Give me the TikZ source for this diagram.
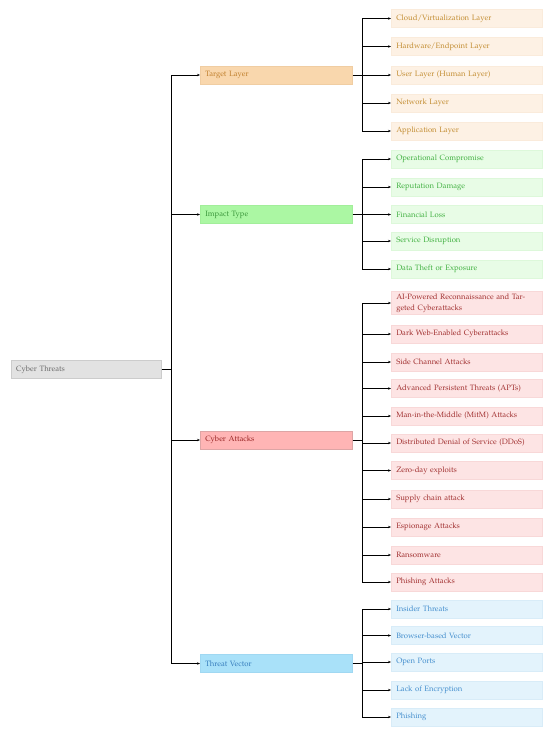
\documentclass[tikz,border=0pt]{standalone}
\usepackage[T1]{fontenc}
\usepackage{mathpazo}
\usetikzlibrary{arrows.meta}
\definecolor{rootfill}{HTML}{E2E2E2}
\definecolor{rootdraw}{HTML}{CCCCCC}
\definecolor{roottext}{HTML}{6A6A6A}
\definecolor{tlfill}{HTML}{F9D7AD}
\definecolor{tldraw}{HTML}{F0CDA2}
\definecolor{tltext}{HTML}{C07F2C}
\definecolor{tlcfill}{HTML}{FDF1E4}
\definecolor{tlcdraw}{HTML}{FAEBDB}
\definecolor{tlctext}{HTML}{C28C30}
\definecolor{imfill}{HTML}{ABF7A3}
\definecolor{imdraw}{HTML}{A2EE9A}
\definecolor{imtext}{HTML}{3A963A}
\definecolor{imcfill}{HTML}{E8FCE6}
\definecolor{imcdraw}{HTML}{DDF8DA}
\definecolor{imctext}{HTML}{40B040}
\definecolor{cafill}{HTML}{FFB5B5}
\definecolor{cadraw}{HTML}{DDA5A5}
\definecolor{catext}{HTML}{982222}
\definecolor{cacfill}{HTML}{FDE4E4}
\definecolor{cacdraw}{HTML}{F8D8D8}
\definecolor{cactext}{HTML}{A02E2E}
\definecolor{tvfill}{HTML}{A9E1F9}
\definecolor{tvdraw}{HTML}{A0D8F2}
\definecolor{tvtext}{HTML}{357CBC}
\definecolor{tvcfill}{HTML}{E3F3FC}
\definecolor{tvcdraw}{HTML}{D8ECF8}
\definecolor{tvctext}{HTML}{428DCD}
\tikzset{
  base/.style={anchor=west, inner xsep=5pt, inner ysep=2pt, font=\fontsize{7.7}{11}\selectfont, align=left, minimum height=18pt, line width=0.5pt},
  rootbox/.style={base, fill=rootfill, draw=rootdraw, text=roottext, text width=140pt},
  lone/.style={base, text width=142pt},
  ltwo/.style={base, text width=141pt},
  conn/.style={line width=0.8pt, black},
  arr/.style={conn, -{Stealth[length=3pt,width=2.4pt]}},
}
\newcommand{\kids}[4]{%
  \coordinate (#1t) at (362,0);
  \draw[conn] (#1.east) -- (#1t|-#1.east);
  \foreach \y/\txt [count=\i] in {#4} {
    \node[ltwo, fill=#2, draw=#3, text=#1ctext] (#1c\i) at (391,\y) {\txt};
    \draw[arr] (#1t|-#1c\i.west) -- (#1c\i.west);
  }
}
\begin{document}
\begin{tikzpicture}[x=1pt,y=-1pt]
\useasboundingbox (0,0) rectangle (550,736);
\fill[white] (0,0) rectangle (550,736);
% root
\node[rootbox] (root) at (11,369.5) {Cyber Threats};
% level 1
\node[lone, fill=tlfill, draw=tldraw, text=tltext] (tl) at (200,75) {Target Layer};
\node[lone, fill=imfill, draw=imdraw, text=imtext] (im) at (200,214.5) {Impact Type};
\node[lone, fill=cafill, draw=cadraw, text=catext] (ca) at (200,440) {Cyber Attacks};
\node[lone, fill=tvfill, draw=tvdraw, text=tvtext] (tv) at (200,663.5) {Threat Vector};
% trunk
\coordinate (t) at (171,369.5);
\draw[conn] (root.east) -- (t);
\draw[conn] (t|-tl.west) -- (t|-tv.west);
\foreach \n in {tl,im,ca,tv} \draw[arr] (t|-\n.west) -- (\n.west);
% children
\kids{tl}{tlcfill}{tlcdraw}{18.5/{Cloud/Virtualization Layer},46.5/{Hardware/Endpoint Layer},75/{User Layer (Human Layer)},103/{Network Layer},131/{Application Layer}}
\draw[conn] (tlt|-tlc1.west) -- (tlt|-tlc5.west);
\kids{im}{imcfill}{imcdraw}{159/{Operational Compromise},187/{Reputation Damage},214.5/{Financial Loss},241/{Service Disruption},269/{Data Theft or Exposure}}
\draw[conn] (imt|-imc1.west) -- (imt|-imc5.west);
\kids{ca}{cacfill}{cacdraw}{303/{AI-Powered Reconnaissance and Tar-\\geted Cyberattacks},334/{Dark Web-Enabled Cyberattacks},362/{Side Channel Attacks},388.5/{Advanced Persistent Threats (APTs)},416/{Man-in-the-Middle (MitM) Attacks},443/{Distributed Denial of Service (DDoS)},470.5/{Zero-day exploits},499/{Supply chain attack},527/{Espionage Attacks},555/{Ransomware},582/{Phishing Attacks}}
\draw[conn] (cat|-cac1.west) -- (cat|-cac11.west);
\kids{tv}{tvcfill}{tvcdraw}{609/{Insider Threats},635.5/{Browser-based Vector},662/{Open Ports},690/{Lack of Encryption},717/{Phishing}}
\draw[conn] (tvt|-tvc1.west) -- (tvt|-tvc5.west);
\end{tikzpicture}
\end{document}
